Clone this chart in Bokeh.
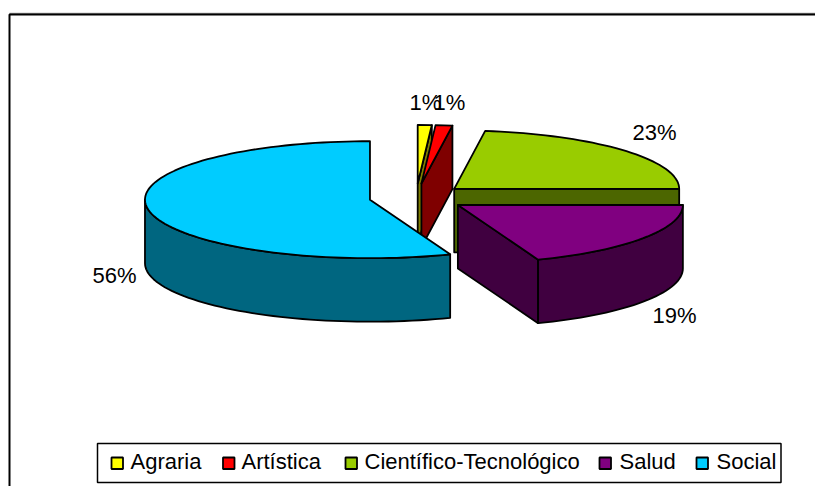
import math
from bokeh.plotting import figure
from bokeh.models import Range1d
from bokeh.core.properties import value
from bokeh.embed import file_html
from bokeh.resources import INLINE

categories = ["Agraria", "Artística", "Científico-Tecnológico", "Salud", "Social"]
shares = [1.0, 1.2, 22.8, 19.2, 55.8]
labels = ["1%", "1%", "23%", "19%", "56%"]

top_colors = ["#FFFF00", "#FF0000", "#99CC00", "#800080", "#00CCFF"]
side_colors = ["#7F7F00", "#7F0000", "#4C6600", "#400040", "#006680"]

explode = [0.24, 0.24, 0.225, 0.226, 0.208]
CX, CY, RX, RY, DEPTH = 415.5, 197.0, 225.0, 58.5, 63.5
LABEL_POS = [(425, 102), (449, 102), (654, 132), (674, 315), (114, 275)]
LEGEND_BOX = (97, 443, 780.5, 482)
SWATCH_X = [111, 222.5, 345, 599, 696]
TEXT_X = [130, 241, 364, 619, 716]
FONT = value("Liberation Sans")

W, H = 815, 486
p = figure(width=W, height=H, output_backend="svg", toolbar_location=None,
           x_range=Range1d(0, W), y_range=Range1d(H, 0),
           min_border=0, outline_line_color=None)
p.axis.visible = False
p.grid.visible = False

# chart frame (only the top and left edges fall inside the picture)
p.line([9, 815], [12.8, 12.8], line_color="#808080", line_width=1)
p.line([9, 9, 815], [486, 14, 14], line_color="black", line_width=2)


def rim(ax, ay, deg, dy=0.0):
    t = math.radians(deg)
    return ax + RX * math.sin(t), ay - RY * math.cos(t) + dy


def arc(ax, ay, a0, a1, dy=0.0):
    n = max(2, int(abs(a1 - a0) / 2) + 1)
    pts = [rim(ax, ay, a0 + (a1 - a0) * i / (n - 1), dy) for i in range(n)]
    return [q[0] for q in pts], [q[1] for q in pts]


def draw_poly(xs, ys, color):
    p.patch(xs, ys, fill_color=color, line_color="black", line_width=1.8, line_join="round")


total = sum(shares)
angle = 0.0
for i, share in enumerate(shares):
    a0, a1 = angle, angle + 360.0 * share / total
    angle = a1
    mid = math.radians((a0 + a1) / 2)
    e = explode[i]
    ax = CX + RX * e * math.sin(mid)
    ay = CY - RY * e * math.cos(mid)
    # radial face at the slice's end, when it faces the viewer
    if 0 < a1 < 180:
        ex, ey = rim(ax, ay, a1)
        draw_poly([ax, ex, ex, ax], [ay, ey, ey + DEPTH, ay + DEPTH], side_colors[i])
    # outer wall, visible on the lower half of the ellipse
    w0, w1 = max(a0, 90.0), min(a1, 270.0)
    if w1 > w0:
        tx, ty = arc(ax, ay, w0, w1)
        bx, by = arc(ax, ay, w0, w1, DEPTH)
        draw_poly(tx + bx[::-1], ty + by[::-1], side_colors[i])
    # top face
    tx, ty = arc(ax, ay, a0, a1)
    draw_poly([ax] + tx, [ay] + ty, top_colors[i])

# percentage labels
p.text([q[0] for q in LABEL_POS], [q[1] for q in LABEL_POS], text=labels,
       text_font=FONT, text_font_size="22px", text_color="black",
       text_align="center", text_baseline="middle")

# legend
lx0, ly0, lx1, ly1 = LEGEND_BOX
p.patch([lx0, lx1, lx1, lx0], [ly0, ly0, ly1, ly1], fill_color="white",
        line_color="black", line_width=1.5)
ymid = (ly0 + ly1) / 2
p.quad(left=SWATCH_X, right=[x + 11.5 for x in SWATCH_X],
       top=[ymid - 5.5] * 5, bottom=[ymid + 6] * 5,
       fill_color=top_colors, line_color="black", line_width=1.8)
p.text(TEXT_X, [ymid - 1.5] * 5, text=categories, text_font=FONT, text_font_size="22px",
       text_color="black", text_align="left", text_baseline="middle")

open("out.html", "w").write(file_html(p, INLINE))
